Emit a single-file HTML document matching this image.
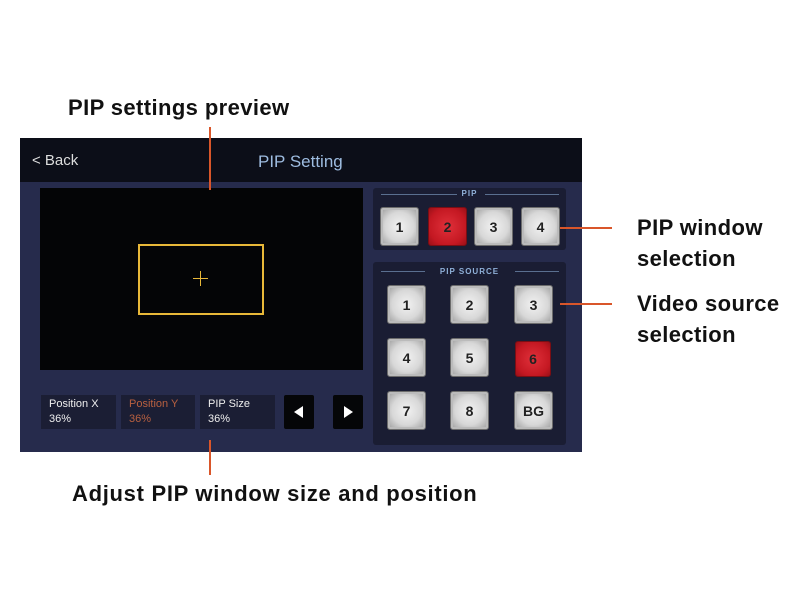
<!DOCTYPE html>
<html><head><style>
body{margin:0;width:800px;height:600px;background:#fff;position:relative;overflow:hidden;font-family:"Liberation Sans",sans-serif}
.a{position:absolute}
.lbl{position:absolute;font-weight:bold;font-size:22px;color:#111;line-height:31px;letter-spacing:0.4px}
.o{position:absolute;background:#d9562a}
.btn{position:absolute;width:37px;height:37px;border-radius:3px;background:radial-gradient(circle at 50% 50%,#f2f2f2 0,#d8d8d8 55%,#9a9a9a 100%);border:1px solid #6c6c6c;box-shadow:inset 0 0 0 2px #bbb;font-weight:bold;font-size:14px;color:#222;display:flex;align-items:center;justify-content:center}
.red{background:radial-gradient(circle,#e0303a 0,#c41822 70%,#9a1018 100%);border:1px solid #7a0e14;box-shadow:none}
.box{position:absolute;top:395px;height:34px;background:#1b1e34;color:#eee;font-size:11px;line-height:15px;padding:2px 0 0 8px;box-sizing:border-box}
.ar{position:absolute;top:395px;width:30px;height:34px;background:#050608;border-radius:2px}
.sec{position:absolute;left:373px;width:193px;background:#1a1d33;border-radius:3px}
.cap{position:absolute;color:#8fb0d8;font-size:8px;font-weight:bold;letter-spacing:1px;text-align:center;width:100%}
.hl{position:absolute;height:1px;background:#5a6f90}
</style></head><body>
<div class="lbl" style="left:68px;top:92px">PIP settings preview</div>
<div class="lbl" style="left:637px;top:212px">PIP window<br>selection</div>
<div class="lbl" style="left:637px;top:288px">Video source<br>selection</div>
<div class="lbl" style="left:72px;top:478px;letter-spacing:0.7px">Adjust PIP window size and position</div>

<div class="a" style="left:20px;top:138px;width:562px;height:314px;background:#262b4c"></div>
<div class="a" style="left:20px;top:138px;width:562px;height:44px;background:#0c0e18"></div>
<div class="a" style="left:32px;top:152px;color:#ddd;font-size:15px">&lt; Back</div>
<div class="a" style="left:258px;top:152px;color:#9ebce0;font-size:17px">PIP Setting</div>
<div class="a" style="left:40px;top:188px;width:323px;height:182px;background:#040506"></div>
<div class="a" style="left:138px;top:244px;width:122px;height:67px;border:2px solid #e8b838"></div>
<div class="a" style="left:193px;top:278px;width:15px;height:1px;background:#e8b838"></div>
<div class="a" style="left:200px;top:271px;width:1px;height:15px;background:#e8b838"></div>

<div class="box" style="left:41px;width:75px">Position X<br>36%</div>
<div class="box" style="left:121px;width:74px;color:#b86040">Position Y<br>36%</div>
<div class="box" style="left:200px;width:75px">PIP Size<br>36%</div>
<div class="ar" style="left:284px"><div class="a" style="left:10px;top:11px;width:0;height:0;border-top:6px solid transparent;border-bottom:6px solid transparent;border-right:9px solid #fff"></div></div>
<div class="ar" style="left:333px"><div class="a" style="left:11px;top:11px;width:0;height:0;border-top:6px solid transparent;border-bottom:6px solid transparent;border-left:9px solid #fff"></div></div>

<div class="sec" style="top:188px;height:62px"><div class="hl" style="left:8px;top:6px;width:76px"></div><div class="hl" style="left:112px;top:6px;width:74px"></div><div class="cap" style="top:1px">PIP</div></div>
<div class="btn" style="left:380px;top:207px">1</div>
<div class="btn red" style="left:428px;top:207px">2</div>
<div class="btn" style="left:474px;top:207px">3</div>
<div class="btn" style="left:521px;top:207px">4</div>

<div class="sec" style="top:262px;height:183px"><div class="hl" style="left:8px;top:9px;width:44px"></div><div class="hl" style="left:142px;top:9px;width:44px"></div><div class="cap" style="top:5px">PIP SOURCE</div></div>
<div class="btn" style="left:387px;top:285px">1</div>
<div class="btn" style="left:450px;top:285px">2</div>
<div class="btn" style="left:514px;top:285px">3</div>
<div class="btn" style="left:387px;top:338px">4</div>
<div class="btn" style="left:450px;top:338px">5</div>
<div class="btn red" style="left:515px;top:341px;width:34px;height:34px">6</div>
<div class="btn" style="left:387px;top:391px">7</div>
<div class="btn" style="left:450px;top:391px">8</div>
<div class="btn" style="left:514px;top:391px">BG</div>

<div class="o" style="left:209px;top:127px;width:2px;height:63px"></div>
<div class="o" style="left:209px;top:440px;width:2px;height:35px"></div>
<div class="o" style="left:560px;top:227px;width:52px;height:2px"></div>
<div class="o" style="left:560px;top:303px;width:52px;height:2px"></div>
</body></html>
